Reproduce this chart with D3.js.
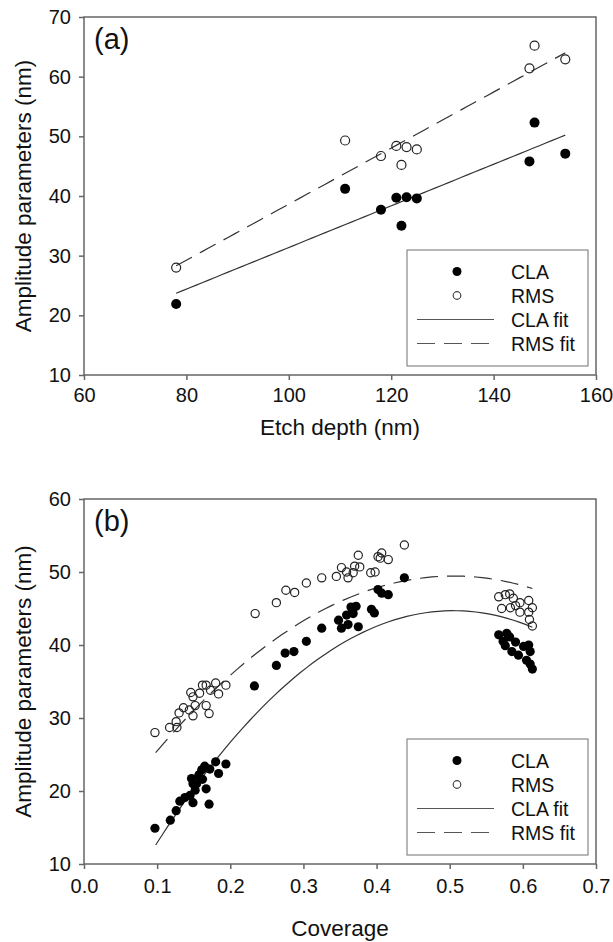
<!DOCTYPE html>
<html>
<head>
<meta charset="utf-8">
<script src="https://cdn.jsdelivr.net/npm/d3@7"></script>
<style>
  body { margin: 0; background: #fff; }
  text { font-family: "Liberation Sans", Arial, sans-serif; fill: #111; }
</style>
</head>
<body>
<div id="chart"></div>
<script>
// panel (a): amplitude vs etch depth
var etchDepth = [78, 111, 118, 121, 123, 125, 122, 147, 148, 154];
var claA = [21.9, 41.2, 37.7, 39.7, 39.8, 39.6, 35.0, 45.8, 52.3, 47.1];
var rmsA = [28.0, 49.3, 46.7, 48.4, 48.2, 47.8, 45.2, 61.4, 65.2, 62.9];
// linear fits as drawn: value at the two ends of fitXA
var fitXA = [78, 154];
var claFitA = [23.7, 50.2];
var rmsFitA = [28.3, 64.0];

// panel (b): amplitude vs coverage
var coverageCla = [0.097, 0.118, 0.126, 0.131, 0.138, 0.145, 0.149, 0.152, 0.147, 0.154, 0.149, 0.161, 0.165, 0.167, 0.171, 0.172, 0.180, 0.184, 0.194, 0.157, 0.162,
  0.233, 0.263, 0.275, 0.287, 0.304, 0.325, 0.348, 0.352, 0.361, 0.359, 0.368, 0.372, 0.375, 0.393, 0.397, 0.402, 0.407, 0.416, 0.438, 0.365,
  0.567, 0.578, 0.582, 0.573, 0.576, 0.585, 0.601, 0.608, 0.594, 0.610, 0.605, 0.610, 0.613, 0.590];
var claB = [14.9, 16.0, 17.3, 18.6, 19.1, 19.4, 18.4, 20.1, 21.7, 21.0, 21.0, 22.9, 23.4, 20.3, 18.2, 23.0, 24.0, 22.4, 23.7, 22.2, 21.6,
  34.4, 37.2, 38.9, 39.1, 40.5, 42.3, 43.4, 42.3, 42.8, 44.1, 44.3, 45.3, 42.5, 44.9, 44.4, 47.6, 47.1, 46.9, 49.2, 45.2,
  41.4, 41.6, 41.1, 40.5, 39.9, 39.1, 39.8, 40.0, 38.6, 39.1, 37.9, 37.4, 36.7, 40.4];
var coverageRms = [0.097, 0.117, 0.127, 0.126, 0.130, 0.136, 0.144, 0.149, 0.146, 0.149, 0.152, 0.158, 0.162, 0.167, 0.167, 0.171, 0.173, 0.180, 0.184, 0.194,
  0.234, 0.263, 0.276, 0.288, 0.304, 0.325, 0.345, 0.352, 0.361, 0.359, 0.368, 0.370, 0.375, 0.377, 0.392, 0.398, 0.402, 0.407, 0.405, 0.416, 0.438,
  0.567, 0.576, 0.582, 0.587, 0.596, 0.608, 0.571, 0.583, 0.596, 0.608, 0.613, 0.609, 0.613, 0.590];
var rmsB = [28.0, 28.7, 28.7, 29.5, 30.7, 31.4, 31.1, 30.3, 33.5, 32.9, 31.7, 33.4, 34.5, 34.5, 31.7, 30.6, 33.8, 34.8, 33.3, 34.5,
  44.3, 45.8, 47.5, 47.2, 48.5, 49.2, 49.4, 50.6, 49.2, 50.0, 49.9, 50.8, 52.3, 50.7, 49.9, 50.0, 52.1, 52.6, 51.9, 51.7, 53.7,
  46.6, 46.9, 47.0, 46.4, 45.8, 46.1, 45.0, 45.1, 44.5, 44.5, 45.1, 43.5, 42.6, 45.4];
// quadratic fits as drawn: [peak coverage, peak value, curvature]
var fitXB = [0.098, 0.613];
var claFitB = [0.505, 44.7, 193.8];
var rmsFitB = [0.505, 49.45, 146.1];

var xTicksA = [60, 80, 100, 120, 140, 160];
var xTicksB = [0.0, 0.1, 0.2, 0.3, 0.4, 0.5, 0.6, 0.7];
var yTicksA = [10, 20, 30, 40, 50, 60, 70];
var yTicksB = [10, 20, 30, 40, 50, 60];
var legendLabels = ["CLA", "RMS", "CLA fit", "RMS fit"];

var W = 613, H = 942;
var left = 84, right = 596;
var svg = d3.select("#chart").append("svg").attr("width", W).attr("height", H);

function linFit(ends){
  return function(x){ return ends[0] + (ends[1] - ends[0]) * (x - fitXA[0]) / (fitXA[1] - fitXA[0]); };
}
function quadFit(p){
  return function(x){ return p[1] - p[2] * (x - p[0]) * (x - p[0]); };
}

function panel(o){
  var x = d3.scaleLinear().domain(o.xDomain).range([left, right]);
  var y = d3.scaleLinear().domain(o.yDomain).range([o.bottom, o.top]);
  var g = svg.append("g");

  var xa = g.append("g").attr("transform", "translate(0," + o.bottom + ")")
    .call(d3.axisBottom(x).tickValues(o.xTicks).tickSize(5).tickPadding(o.xPad).tickFormat(o.xFormat));
  var ya = g.append("g").attr("transform", "translate(" + left + ",0)")
    .call(d3.axisLeft(y).tickValues(o.yTicks).tickSize(5).tickPadding(8).tickFormat(d3.format("d")));
  [xa, ya].forEach(function(a){
    a.select(".domain").remove();
    a.selectAll(".tick line").attr("stroke", "#666").attr("stroke-width", 1.5);
    a.selectAll(".tick text").style("font-size", "20px").attr("fill", "#111");
  });

  g.append("rect").attr("x", left).attr("y", o.top)
    .attr("width", right - left).attr("height", o.bottom - o.top)
    .attr("fill", "none").attr("stroke", "#666").attr("stroke-width", 1.5);

  g.append("text").attr("x", (left + right) / 2).attr("y", o.bottom + o.titleGap)
    .attr("text-anchor", "middle").style("font-size", "22.5px").text(o.xTitle);
  g.append("text").attr("transform", "translate(31," + (o.top + o.bottom) / 2 + ") rotate(-90)")
    .attr("text-anchor", "middle").style("font-size", "22.5px").text("Amplitude parameters (nm)");
  g.append("text").attr("x", 94).attr("y", o.top + 32).style("font-size", "29px").text(o.tag);

  // fit curves
  var xs = d3.range(0, 61).map(function(i){ return o.fitX[0] + (o.fitX[1] - o.fitX[0]) * i / 60; });
  [[o.fitCla, null], [o.fitRms, "18,9"]].forEach(function(s){
    g.append("path").datum(xs)
      .attr("d", d3.line().x(function(d){ return x(d); }).y(function(d){ return y(s[0](d)); }))
      .attr("fill", "none").attr("stroke", "#333").attr("stroke-width", 1.2)
      .attr("stroke-dasharray", s[1]);
  });

  g.selectAll(".cla").data(o.xCla).enter().append("circle")
    .attr("cx", function(d){ return x(d); })
    .attr("cy", function(d, i){ return y(o.yCla[i]); })
    .attr("r", o.r).attr("fill", "#000");
  g.selectAll(".rms").data(o.xRms).enter().append("circle")
    .attr("cx", function(d){ return x(d); })
    .attr("cy", function(d, i){ return y(o.yRms[i]); })
    .attr("r", o.r - 0.5).attr("fill", "none").attr("stroke", "#222").attr("stroke-width", 1.2);

  // legend
  var lg = g.append("g").attr("transform", "translate(407," + (o.bottom - 125) + ")");
  lg.append("rect").attr("width", 181).attr("height", 116)
    .attr("fill", "#fff").attr("stroke", "#888").attr("stroke-width", 1.2);
  legendLabels.forEach(function(lab, i){
    var ly = 21.5 + i * 24;
    if (i === 0) lg.append("circle").attr("cx", 50).attr("cy", ly).attr("r", 4.5).attr("fill", "#000");
    if (i === 1) lg.append("circle").attr("cx", 50).attr("cy", ly).attr("r", 3.8).attr("fill", "none").attr("stroke", "#444").attr("stroke-width", 1.2);
    if (i >= 2) lg.append("line").attr("x1", 10).attr("x2", 87).attr("y1", ly).attr("y2", ly)
      .attr("stroke", "#555").attr("stroke-width", 1.2).attr("stroke-dasharray", i === 3 ? "18,9" : null);
    lg.append("text").attr("x", 104).attr("y", ly).attr("dy", "0.36em").style("font-size", "19.5px").text(lab);
  });
}

panel({
  top: 17, bottom: 375, xDomain: [60, 160], yDomain: [10, 70],
  xTicks: xTicksA, yTicks: yTicksA, xFormat: d3.format("d"), xPad: 8, titleGap: 60,
  xTitle: "Etch depth (nm)", tag: "(a)", r: 5,
  xCla: etchDepth, yCla: claA, xRms: etchDepth, yRms: rmsA,
  fitX: fitXA, fitCla: linFit(claFitA), fitRms: linFit(rmsFitA)
});
panel({
  top: 499, bottom: 864, xDomain: [0, 0.7], yDomain: [10, 60],
  xTicks: xTicksB, yTicks: yTicksB, xFormat: d3.format(".1f"), xPad: 10, titleGap: 72,
  xTitle: "Coverage", tag: "(b)", r: 4.6,
  xCla: coverageCla, yCla: claB, xRms: coverageRms, yRms: rmsB,
  fitX: fitXB, fitCla: quadFit(claFitB), fitRms: quadFit(rmsFitB)
});
</script>
</body>
</html>
